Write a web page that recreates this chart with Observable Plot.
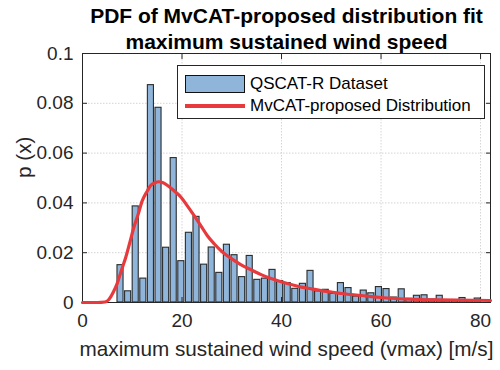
<!DOCTYPE html>
<html>
<head>
<meta charset="utf-8">
<script src="https://cdn.jsdelivr.net/npm/d3@7"></script>
<script src="https://cdn.jsdelivr.net/npm/@observablehq/plot@0.6"></script>
<style>
  body { margin: 0; background: #fff; }
  #chart { position: relative; width: 500px; height: 370px; font-family: "Liberation Sans", Arial, Helvetica, sans-serif; }
  #chart svg { display: block; }
  .legend { position: absolute; left: 177px; top: 65px; width: 308px; height: 54px; box-sizing: border-box;
            border: 1px solid #262626; background: #fff; font-size: 17px; color: #000; }
  .legend .row { position: absolute; left: 7px; height: 20px; display: flex; align-items: center; }
  .legend .swatch { width: 60px; height: 18px; box-sizing: border-box; margin-right: 5px; }
  .legend .lineSwatch { width: 60px; height: 3.5px; margin-right: 5px; }
</style>
</head>
<body>
<div id="chart"></div>
<script>
// Labels
const titleLines = ["PDF of MvCAT-proposed distribution fit", "maximum sustained wind speed"];
const xLabel = "maximum sustained wind speed (vmax) [m/s]";
const yLabel = "p (x)";
const seriesNames = ["QSCAT-R Dataset", "MvCAT-proposed Distribution"];

// Axis ticks
const xTicks = [0, 20, 40, 60, 80];
const yTicks = [0, 0.02, 0.04, 0.06, 0.08, 0.1];
const yTickLabels = ["0", "0.02", "0.04", "0.06", "0.08", "0.1"];

// Histogram bins (m/s): first edge and bin width
const binStart = 6.876;
const binWidth = 1.5275;

// Normalised histogram height of each bin (probability density)
const binDensity = [
  0.0150, 0.0045, 0.0386, 0.0096, 0.0873, 0.0782, 0.0220, 0.0580, 0.0166, 0.0280,
  0.0344, 0.0152, 0.0221, 0.0119, 0.0232, 0.0190, 0.0102, 0.0187, 0.0091, 0.0096,
  0.0131, 0.0086, 0.0078, 0.0055, 0.0075, 0.0127, 0.0045, 0.0051, 0.0035, 0.0078,
  0.0058, 0.0024, 0.0048, 0.0037, 0.0062, 0.0054, 0.0020, 0.0053, 0.0015, 0.0027,
  0.0029, 0.0012, 0.0027, 0.0008, 0.0010, 0.0018, 0.0006, 0.0016
];

// Fitted distribution, sampled wind speed (m/s) and density
const fitX = [0, 3, 4.5, 5.3, 6.2, 7.0, 7.8, 8.7, 9.5, 10.3, 11.2, 12.0, 13.0, 13.7, 14.5,
  15.3, 16.2, 17.1, 18.5, 19.8, 21.0, 22.4, 23.8, 25.1, 26.5, 28.0, 29.8, 31.8, 33.9,
  35.9, 37.9, 39.9, 41.9, 44.0, 46.0, 48.0, 50.0, 52.0, 54.0, 57.0, 60.0, 63.0, 66.0,
  70.0, 75.0, 82.0];
const fitPdf = [0, 0, 0.0002, 0.0012, 0.0042, 0.0078, 0.0128, 0.0182, 0.0240, 0.0300,
  0.0355, 0.0408, 0.0447, 0.0470, 0.0480, 0.0485, 0.0481, 0.0470, 0.0447, 0.0423,
  0.0390, 0.0350, 0.0308, 0.0268, 0.0235, 0.0205, 0.0178, 0.0152, 0.0131, 0.0112,
  0.0096, 0.0083, 0.0072, 0.0062, 0.0055, 0.0048, 0.0042, 0.0036, 0.0032, 0.0026,
  0.0020, 0.0016, 0.0013, 0.0011, 0.0010, 0.0008];

const barFill = "#8fb5da";
const barEdge = "#1a1a1a";
const fitColor = "#e8393d";
const axisColor = "#262626";
const gridColor = "#d4d4d4";

const bars = binDensity.map((p, i) => ({c: binStart + (i + 0.5) * binWidth, p}));
const fit = fitX.map((x, i) => ({x, p: fitPdf[i]}));

const chart = Plot.plot({
  width: 500,
  height: 370,
  marginLeft: 82,
  marginRight: 10,
  marginTop: 53,
  marginBottom: 68,
  style: {fontFamily: "Liberation Sans, Arial, Helvetica, sans-serif", fontSize: "19px", color: axisColor, background: "#fff"},
  x: {domain: [0, 82]},
  y: {domain: [0, 0.1]},
  marks: [
    Plot.gridX(xTicks, {stroke: gridColor, strokeOpacity: 1, strokeDasharray: "1.5,1.5"}),
    Plot.gridY(yTicks, {stroke: gridColor, strokeOpacity: 1, strokeDasharray: "1.5,1.5"}),
    Plot.rectY(bars, {
      x1: d => d.c - 0.4 * binWidth,
      x2: d => d.c + 0.4 * binWidth,
      y1: 0,
      y2: "p",
      fill: barFill,
      stroke: barEdge,
      strokeWidth: 1.1,
      strokeOpacity: 0.9
    }),
    Plot.frame({stroke: axisColor, strokeWidth: 1}),
    Plot.axisX(xTicks, {anchor: "bottom", tickSize: -5, tickPadding: 16, label: null, fontSize: 19}),
    Plot.axisX(xTicks, {anchor: "top", tickSize: -5, tickFormat: () => "", label: null}),
    Plot.axisY(yTicks, {anchor: "left", tickSize: -5, tickPadding: 14, label: null, fontSize: 19,
      tickFormat: d => yTickLabels[yTicks.indexOf(d)]}),
    Plot.axisY(yTicks, {anchor: "right", tickSize: -5, tickFormat: () => "", label: null}),
    Plot.line(fit, {x: "x", y: "p", stroke: fitColor, strokeWidth: 3.2, curve: "monotone-x"}),
    Plot.text([titleLines.join("\n")], {
      text: d => d, frameAnchor: "top", lineAnchor: "bottom", dy: -5,
      fontSize: 21, fontWeight: "bold", fill: "#000", lineHeight: 1.22
    }),
    Plot.text([xLabel], {text: d => d, frameAnchor: "bottom", lineAnchor: "top", dy: 39, fontSize: 20.7, fill: axisColor}),
    Plot.text([yLabel], {text: d => d, frameAnchor: "left", rotate: -90, dx: -58, fontSize: 20.7, fill: axisColor})
  ]
});

const root = document.getElementById("chart");
root.appendChild(chart);

// Legend box inside the axes
const legend = document.createElement("div");
legend.className = "legend";
legend.innerHTML = `
  <div class="row" style="top:8px"><div class="swatch" style="background:${barFill};border:1.5px solid #111"></div><span>${seriesNames[0]}</span></div>
  <div class="row" style="top:30px"><div class="lineSwatch" style="background:${fitColor}"></div><span>${seriesNames[1]}</span></div>`;
root.appendChild(legend);
</script>
</body>
</html>
